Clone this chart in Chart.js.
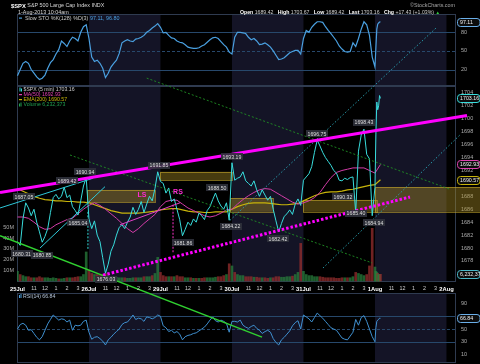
<!DOCTYPE html>
<html>
<head>
<meta charset="utf-8">
<title>$SPX 5 min</title>
<script src="https://cdn.jsdelivr.net/npm/chart.js@4.4.1/dist/chart.umd.min.js"></script>
<style>
  html, body { margin: 0; padding: 0; background: #000; overflow: hidden; }
  canvas { display: block; }
</style>
</head>
<body>
<canvas id="spxChart" width="480" height="364"></canvas>
<script>
// 5-minute bars, 78 per session. Values are sampled every 15 minutes (3 bars),
// the last session (1 Aug, up to 10:04am) bar by bar.
const BARS_PER_DAY = 78;
const dayLabels = ['25Jul', '26Jul', '29Jul', '30Jul', '31Jul', '1Aug', '2Aug'];
const hourLabels = ['11', '12', '1', '2', '3'];
const hourBars = [18, 30, 42, 54, 66];

// $SPX price
const close25Jul = [1681.0, 1680.4, 1684.5, 1687.0, 1686.2, 1685.0, 1686.0, 1684.0, 1682.5, 1680.9, 1681.8, 1683.0, 1685.5, 1687.8, 1688.3, 1687.6, 1688.0, 1689.4, 1687.8, 1688.2, 1686.4, 1685.8, 1685.1, 1687.3, 1689.6, 1690.9];
const close26Jul = [1684.5, 1683.0, 1684.2, 1682.0, 1681.0, 1678.5, 1676.1, 1677.5, 1679.5, 1680.5, 1682.0, 1683.2, 1683.6, 1683.0, 1684.0, 1684.8, 1686.3, 1685.2, 1686.0, 1687.2, 1685.5, 1686.8, 1688.0, 1687.3, 1689.2, 1691.8];
const close29Jul = [1690.3, 1690.0, 1688.5, 1689.3, 1687.2, 1687.6, 1686.0, 1684.4, 1681.9, 1682.9, 1684.0, 1683.5, 1684.5, 1684.0, 1685.4, 1685.0, 1684.4, 1685.8, 1686.4, 1687.5, 1688.5, 1687.3, 1686.5, 1686.0, 1687.0, 1684.3];
const close30Jul = [1693.2, 1690.5, 1690.8, 1691.0, 1691.8, 1690.4, 1690.0, 1689.6, 1690.4, 1689.0, 1688.0, 1689.0, 1688.2, 1687.4, 1688.0, 1686.0, 1684.2, 1682.5, 1683.8, 1684.9, 1685.3, 1685.9, 1685.2, 1686.8, 1687.6, 1686.6];
const close31Jul = [1690.5, 1691.0, 1691.5, 1692.6, 1694.8, 1696.7, 1695.8, 1694.8, 1694.0, 1693.4, 1692.8, 1692.0, 1691.6, 1690.5, 1690.4, 1690.8, 1690.6, 1690.9, 1691.0, 1685.5, 1695.0, 1697.5, 1698.4, 1694.5, 1693.8, 1685.0];
const close1Aug = [1689.4, 1697.5, 1702.6, 1701.4, 1702.0, 1703.6, 1703.16];

// MA(50) and EMA(200), every 30 minutes
const ma25Jul = [1684.8, 1684.8, 1684.6, 1684.0, 1683.3, 1682.9, 1683.0, 1683.6, 1684.0, 1684.4, 1684.6, 1685.3, 1686.0];
const ma26Jul = [1686.6, 1687.0, 1686.6, 1686.0, 1685.3, 1684.6, 1683.8, 1683.0, 1682.4, 1683.0, 1683.8, 1684.5, 1685.2];
const ma29Jul = [1686.4, 1687.2, 1687.4, 1687.4, 1686.8, 1686.2, 1685.8, 1685.4, 1685.0, 1684.8, 1685.0, 1685.4, 1685.9];
const ma30Jul = [1686.0, 1686.8, 1687.5, 1688.1, 1688.6, 1689.0, 1689.2, 1689.1, 1688.6, 1688.1, 1687.6, 1687.1, 1686.8];
const ma31Jul = [1687.0, 1687.3, 1687.8, 1688.6, 1689.8, 1690.9, 1691.7, 1692.0, 1692.2, 1692.4, 1692.4, 1692.4, 1692.0];
const ma1Aug = [1691.6, 1692.93];

const ema25Jul = [1689.2, 1688.8, 1688.4, 1688.0, 1687.7, 1687.5, 1687.4, 1687.3, 1687.3, 1687.2, 1687.2, 1687.1, 1687.1];
const ema26Jul = [1687.0, 1686.7, 1686.4, 1686.1, 1685.8, 1685.6, 1685.4, 1685.4, 1685.4, 1685.4, 1685.5, 1685.6, 1685.7];
const ema29Jul = [1685.9, 1686.0, 1686.1, 1686.1, 1685.9, 1685.7, 1685.6, 1685.6, 1685.5, 1685.5, 1685.6, 1685.6, 1685.6];
const ema30Jul = [1686.0, 1686.4, 1686.7, 1686.9, 1687.0, 1687.0, 1687.0, 1686.9, 1686.8, 1686.7, 1686.7, 1686.8, 1686.9];
const ema31Jul = [1687.3, 1687.7, 1688.1, 1688.4, 1688.6, 1688.7, 1688.7, 1688.8, 1689.0, 1689.1, 1689.3, 1689.5, 1689.7];
const ema1Aug = [1689.8, 1690.57];

// Volume, millions per 5-minute bar
const vol25Jul = [9, 6, 5, 4, 4, 3, 3, 3, 4, 3, 3, 3, 2.5, 3, 2.5, 2, 2, 2.5, 3, 3, 3, 3.5, 4, 4, 6, 27];
const vol26Jul = [10, 7, 6, 6, 5, 6, 7, 5, 4, 4, 3.5, 3, 3, 3, 2.5, 2.5, 3, 3, 3, 3, 4, 4, 4, 5, 7, 22];
const vol29Jul = [8, 5, 4, 4, 4, 4, 5, 4, 4, 3, 3, 3, 2.5, 2.5, 2.5, 2.5, 3, 3, 3, 3, 3.5, 4, 4, 5, 6, 16];
const vol30Jul = [14, 8, 6, 5, 5, 4, 4, 4, 3.5, 3.5, 3, 3, 3, 2.5, 3, 3, 4, 4, 3.5, 3.5, 4, 4, 4.5, 6, 8, 35];
const vol31Jul = [9, 6, 5, 5, 4, 4, 4, 3.5, 3, 3, 3, 3, 2.5, 2.5, 3, 3, 3, 3, 4, 8, 7, 6, 5, 6, 14, 49];
const vol1Aug = [13, 9, 8, 7, 6, 6, 6.2];

// Slow STO %K(128)
const sto25Jul = [10, 20, 30, 33, 30, 20, 14, 8, 4, 6, 11, 22, 31, 36, 45, 52, 66, 62, 57, 66, 72, 70, 66, 80, 89, 92];
const sto26Jul = [70, 40, 33, 35, 30, 22, 7, 14, 24, 30, 35, 46, 63, 66, 68, 66, 65, 69, 70, 72, 75, 80, 83, 87, 90, 94];
const sto29Jul = [88, 79, 80, 75, 71, 70, 66, 64, 63, 60, 56, 55, 54, 54, 55, 58, 60, 64, 68, 71, 72, 70, 65, 60, 56, 48];
const sto30Jul = [45, 72, 80, 80, 79, 78, 72, 68, 70, 66, 60, 61, 63, 60, 56, 50, 43, 36, 37, 39, 43, 47, 49, 51, 51, 45];
const sto31Jul = [70, 83, 80, 88, 93, 97, 97, 96, 89, 83, 78, 72, 66, 58, 53, 49, 48, 49, 63, 57, 70, 85, 97, 92, 75, 40];
const sto1Aug = [24, 55, 85, 93, 95, 96.5, 97.11];

// RSI(14)
const rsi25Jul = [50, 57, 59, 56, 48, 49, 43, 37, 33, 38, 48, 58, 65, 72, 68, 64, 66, 65, 61, 64, 48, 56, 55, 56, 62, 64];
const rsi26Jul = [45, 34, 37, 38, 35, 31, 25, 33, 37, 42, 46, 50, 57, 60, 61, 66, 72, 65, 67, 66, 62, 69, 68, 66, 68, 72];
const rsi29Jul = [70, 55, 52, 46, 48, 44, 46, 42, 33, 38, 40, 41, 43, 44, 47, 50, 53, 58, 64, 69, 63, 61, 64, 62, 59, 45];
const rsi30Jul = [62, 62, 61, 64, 56, 53, 51, 54, 56, 51, 48, 43, 46, 48, 45, 35, 29, 25, 33, 37, 42, 47, 55, 60, 63, 50];
const rsi31Jul = [72, 69, 66, 61, 68, 75, 71, 67, 62, 57, 52, 50, 48, 42, 36, 34, 33, 39, 45, 65, 56, 68, 71, 62, 50, 38];
const rsi1Aug = [30, 52, 62, 64, 65, 67, 66.84];

// axis ticks
const priceTicks = [1676, 1678, 1680, 1682, 1684, 1686, 1688, 1690, 1692, 1694, 1696, 1698, 1700, 1702, 1704];
const volumeTicks = [10, 20, 30, 40, 50];
const stoTicks = [20, 50, 80];
const rsiTicks = [10, 30, 50, 70, 90];

// hand-drawn annotations, [bar, price]
const upperTrend = [[-19.0, 1688.6], [490.4, 1700.5]];
const lowerTrendDots = [[93.3, 1675.8], [428.2, 1687.9]];
const channelTop25Jul = [[-19.0, 1686.2], [82.4, 1690.8]];
const riseLine25Jul = [[24.6, 1680.0], [95.5, 1689.5]];
const downTrend = [[-19.0, 1681.9], [266.8, 1666.2]];
const fallLineHigh = [[141.0, 1706.3], [471.8, 1689.1]];
const fallLineLow = [[57.3, 1694.4], [386.8, 1677.7]];
const riseDotsA = [[231.9, 1684.3], [457.7, 1714.2]];
const riseDotsB = [[333.3, 1676.9], [482.7, 1697.5]];
const neckline = [[111.9, 1683.6], [177.3, 1687.0]];
const gapMark = [[76.9, 1685.6], [76.9, 1679.7]];
const shoulderMark = [[169.7, 1686.7], [169.7, 1679.2]];
// [fromBar, toBar, top, bottom]
const zones = [
  [75.9, 150.1, 1689.0, 1687.1],
  [155.5, 234.0, 1691.8, 1690.5],
  [231.9, 278.7, 1687.75, 1685.6],
  [311.5, 392.2, 1687.45, 1685.6],
  [390.0, 504.6, 1689.45, 1685.6]
];
// swing labels [bar, price, text]
const swingLabels = [
  [7.1, 1687.9, '1687.05'], [4.5, 1679.1, '1680.31'], [26.8, 1678.9, '1680.85'],
  [54.0, 1690.4, '1689.42'], [73.7, 1691.8, '1690.94'], [66.0, 1683.9, '1685.04'],
  [96.6, 1675.1, '1676.03'], [154.4, 1692.85, '1691.85'], [180.6, 1680.8, '1681.86'],
  [217.7, 1689.3, '1688.50'], [232.9, 1683.3, '1684.22'], [234.0, 1694.1, '1693.19'],
  [284.2, 1681.4, '1682.42'], [326.7, 1697.65, '1696.75'], [355.1, 1687.9, '1690.32'],
  [369.3, 1685.4, '1685.40'], [378.0, 1699.4, '1698.43'], [388.9, 1683.9, '1684.94']
];
const patternLabels = [[135.9, 1688.2, 'LS'], [175.1, 1688.7, 'RS']];

function toPoints(dayArrays, step, lastStep) {
  const pts = [];
  dayArrays.forEach((vals, d) => {
    const s = d === dayArrays.length - 1 ? lastStep : step;
    vals.forEach((v, i) => pts.push({ x: d * BARS_PER_DAY + i * s, y: v }));
  });
  return pts;
}
const xy = pts => pts.map(p => ({ x: p[0], y: p[1] }));

const pricePts = toPoints([close25Jul, close26Jul, close29Jul, close30Jul, close31Jul, close1Aug], 3, 1);
const maPts = toPoints([ma25Jul, ma26Jul, ma29Jul, ma30Jul, ma31Jul, ma1Aug], 6, 6);
const emaPts = toPoints([ema25Jul, ema26Jul, ema29Jul, ema30Jul, ema31Jul, ema1Aug], 6, 6);
const volPts = toPoints([vol25Jul, vol26Jul, vol29Jul, vol30Jul, vol31Jul, vol1Aug], 3, 1);
const stoPts = toPoints([sto25Jul, sto26Jul, sto29Jul, sto30Jul, sto31Jul, sto1Aug], 3, 1);
const rsiPts = toPoints([rsi25Jul, rsi26Jul, rsi29Jul, rsi30Jul, rsi31Jul, rsi1Aug], 3, 1);
const volColors = pricePts.map((p, i) =>
  i > 0 && p.y < pricePts[i - 1].y ? 'rgba(150,45,45,0.75)' : 'rgba(40,125,60,0.75)');

const FONT = '"Liberation Sans", Arial, sans-serif';
const font = (size, bold) => (bold ? 'bold ' : '') + size + 'px ' + FONT;

function annotation(points, color, width, dash, order) {
  return {
    type: 'line', data: xy(points), yAxisID: 'yPrice',
    borderColor: color, borderWidth: width, borderDash: dash || [],
    pointRadius: 0, clip: false, order: order || 1
  };
}

function hline(ctx, area, y) {
  ctx.beginPath();
  ctx.moveTo(area.left, Math.round(y) + 0.5);
  ctx.lineTo(area.right, Math.round(y) + 0.5);
  ctx.stroke();
}

function valueTag(ctx, x, y, text, color) {
  ctx.font = font(5.3);
  ctx.beginPath();
  ctx.roundRect(x, Math.round(y - 4) + 0.5, 22.5, 8, 3);
  ctx.fillStyle = '#0c0c0c';
  ctx.fill();
  ctx.strokeStyle = color;
  ctx.lineWidth = 1;
  ctx.stroke();
  ctx.fillStyle = '#eeeeee';
  ctx.textAlign = 'left';
  ctx.textBaseline = 'middle';
  ctx.fillText(text, x + 2.5, y + 0.5);
}

function runText(ctx, x, y, parts) {
  parts.forEach(([text, color, bold, size]) => {
    ctx.font = font(size || 5.4, bold);
    ctx.fillStyle = color;
    ctx.fillText(text, x, y);
    x += ctx.measureText(text).width;
  });
  return x;
}

const chartDecor = {
  id: 'chartDecor',
  beforeDraw(chart) {
    const { ctx, chartArea: area, scales } = chart;
    const xs = scales.x;
    const panels = [scales.ySto, scales.yPrice, scales.yRsi];
    ctx.save();
    ctx.fillStyle = '#000';
    ctx.fillRect(0, 0, chart.width, chart.height);
    // alternate sessions shaded
    ctx.fillStyle = '#141426';
    [1, 3, 5].forEach(d => {
      const x0 = xs.getPixelForValue(d * BARS_PER_DAY);
      const x1 = Math.min(xs.getPixelForValue((d + 1) * BARS_PER_DAY), area.right);
      panels.forEach(p => ctx.fillRect(x0, p.top, x1 - x0, p.bottom - p.top));
    });
    // indicator guide lines
    ctx.lineWidth = 1;
    ctx.strokeStyle = '#27486b';
    [[scales.ySto, [80, 20], 50], [scales.yRsi, [70, 30], 50]].forEach(([s, solid, mid]) => {
      ctx.setLineDash([]);
      solid.forEach(v => hline(ctx, area, s.getPixelForValue(v)));
      ctx.setLineDash([3, 2]);
      hline(ctx, area, s.getPixelForValue(mid));
    });
    ctx.setLineDash([]);
    ctx.strokeStyle = '#2f3b50';
    panels.forEach(p => ctx.strokeRect(Math.round(area.left) + 0.5, Math.round(p.top) + 0.5,
      Math.round(area.right - area.left) - 1, Math.round(p.bottom - p.top) - 1));
    ctx.restore();
  },
  beforeDatasetsDraw(chart) {
    const { ctx, scales } = chart;
    const xs = scales.x, yp = scales.yPrice;
    ctx.save();
    ctx.fillStyle = 'rgba(170,140,35,0.42)';
    ctx.strokeStyle = 'rgba(205,175,45,0.55)';
    ctx.lineWidth = 1;
    zones.forEach(([b0, b1, top, bottom]) => {
      const x0 = xs.getPixelForValue(b0), x1 = xs.getPixelForValue(b1);
      const y0 = yp.getPixelForValue(top), y1 = yp.getPixelForValue(bottom);
      ctx.fillRect(x0, y0, x1 - x0, y1 - y0);
      ctx.strokeRect(Math.round(x0) + 0.5, Math.round(y0) + 0.5, Math.round(x1 - x0), Math.round(y1 - y0));
    });
    ctx.restore();
  },
  afterDraw(chart) {
    const { ctx, scales, chartArea: area } = chart;
    const xs = scales.x, yp = scales.yPrice;
    ctx.save();
    ctx.textBaseline = 'middle';

    // swing labels
    ctx.textAlign = 'center';
    swingLabels.forEach(([b, p, text]) => {
      const x = xs.getPixelForValue(b), y = yp.getPixelForValue(p);
      ctx.font = font(5.2);
      const w = Math.round(ctx.measureText(text).width + 3);
      ctx.fillStyle = 'rgba(46,48,58,0.92)';
      ctx.fillRect(Math.round(x - w / 2), Math.round(y - 3.5), w, 7);
      ctx.fillStyle = '#dedede';
      ctx.fillText(text, x, y + 0.3);
    });
    ctx.font = font(7, true);
    ctx.fillStyle = '#ff2ad4';
    patternLabels.forEach(([b, p, text]) => ctx.fillText(text, xs.getPixelForValue(b), yp.getPixelForValue(p)));

    // time axis between price and RSI panels
    const ty = yp.bottom + 7;
    dayLabels.forEach((name, d) => {
      ctx.font = font(5.8, true);
      ctx.fillStyle = '#ffffff';
      ctx.fillText(name, xs.getPixelForValue(d * BARS_PER_DAY), ty);
      if (d < dayLabels.length - 1) {
        ctx.font = font(5.4);
        ctx.fillStyle = '#cfcfcf';
        hourBars.forEach((hb, i) => ctx.fillText(hourLabels[i], xs.getPixelForValue(d * BARS_PER_DAY + hb), ty));
      }
    });

    // header
    ctx.textAlign = 'left';
    runText(ctx, 11, 6, [['$SPX', '#ffffff', true, 5.8], [' S&P 500 Large Cap Index ', '#d8d8d8'], ['INDX', '#d8d8d8']]);
    runText(ctx, 18, 13, [['1-Aug-2013 10:04am', '#d8d8d8']]);
    const hx = runText(ctx, 240, 13, [
      ['Open ', '#ffffff', true, 5.2], ['1689.42   ', '#cfcfcf', false, 5.2],
      ['High ', '#ffffff', true, 5.2], ['1703.67   ', '#cfcfcf', false, 5.2],
      ['Low ', '#ffffff', true, 5.2], ['1689.42   ', '#cfcfcf', false, 5.2],
      ['Last ', '#ffffff', true, 5.2], ['1703.16   ', '#cfcfcf', false, 5.2],
      ['Chg ', '#ffffff', true, 5.2], ['+17.43 (+1.03%) ', '#cfcfcf', false, 5.2]]);
    runText(ctx, hx, 13, [['\u25B2', '#30d040', false, 4.5]]);
    runText(ctx, 410, 6, [['\u00A9StockCharts.com', '#a8a8a8', false, 5.4]]);

    // panel legends
    ctx.fillStyle = '#4aa0e0';
    ctx.fillRect(19, 17.5, 3, 1.2);
    runText(ctx, 25, 18.3, [['Slow STO %K(128) %D(3) ', '#cccccc'], ['97.11, 96.80', '#4aa0e0']]);

    ctx.fillStyle = '#38dcdc';
    ctx.fillRect(19.5, 87.5, 1, 4);
    ctx.fillRect(21, 88.5, 1, 3);
    runText(ctx, 23.5, 89.6, [['$SPX (5 min) 1703.16', '#cccccc', false, 5.2]]);
    ctx.fillStyle = '#e040b0';
    ctx.fillRect(19, 94, 3, 1.2);
    runText(ctx, 23.5, 94.6, [['MA(50) 1692.93', '#e040b0', false, 5.2]]);
    ctx.fillStyle = '#c8b40a';
    ctx.fillRect(19, 99, 3, 1.2);
    runText(ctx, 23.5, 99.6, [['EMA(200) 1690.57', '#c8b40a', false, 5.2]]);
    ctx.fillStyle = '#20a050';
    ctx.fillRect(19, 103.5, 1, 3);
    ctx.fillRect(20.5, 102.5, 1, 4);
    runText(ctx, 23.5, 104.8, [['Volume 6,232,373', '#20a050', false, 5.2]]);

    ctx.fillStyle = '#4aa0e0';
    ctx.fillRect(19, 295, 1, 3);
    ctx.fillRect(20.5, 294, 1, 4);
    runText(ctx, 23, 296.5, [['RSI(14) 66.84', '#b8c8dc', false, 5.2]]);

    // last-value tags on the right axis
    const tx = area.right + 1.5;
    valueTag(ctx, tx, scales.ySto.getPixelForValue(97.11), '97.11', '#6aaee8');
    valueTag(ctx, tx, yp.getPixelForValue(1703.16), '1703.16', '#38dcdc');
    valueTag(ctx, tx, yp.getPixelForValue(1692.93), '1692.93', '#e040b0');
    valueTag(ctx, tx, yp.getPixelForValue(1690.57), '1690.57', '#c8b40a');
    valueTag(ctx, tx, Math.min(scales.yVol.getPixelForValue(6.232373), yp.bottom - 4), '6,232,373', '#4ab8c8');
    valueTag(ctx, tx, scales.yRsi.getPixelForValue(66.84), '66.84', '#6aaee8');
    ctx.restore();
  }
};

function rightPanel(weight, ticks) {
  return {
    type: 'linear', position: 'right', stack: 'panels', stackWeight: weight,
    grid: { display: false, drawTicks: false }, border: { display: false },
    ticks: { padding: 5, color: '#ababab', font: { size: 5.5 }, autoSkip: false, callback: v => String(v) },
    afterBuildTicks: s => { if (ticks) s.ticks = ticks.map(v => ({ value: v })); },
    afterFit: s => { s.width = 24; s.paddingTop = 0; s.paddingBottom = 0; }
  };
}

Chart.defaults.font.family = FONT;

new Chart(document.getElementById('spxChart'), {
  type: 'line',
  data: {
    datasets: [
      annotation(upperTrend, '#ff00ff', 3, [], 0),
      annotation(lowerTrendDots, '#ff00ff', 3, [2.5, 2], 0),
      annotation(channelTop25Jul, '#2ec8d8', 1),
      annotation(riseLine25Jul, '#2ec8d8', 1),
      annotation(downTrend, '#30d030', 1.5),
      annotation(fallLineHigh, '#1f8f24', 0.9, [2, 2]),
      annotation(fallLineLow, '#1f8f24', 0.9, [2, 2]),
      annotation(riseDotsA, '#2aa7b8', 0.9, [1.5, 2]),
      annotation(riseDotsB, '#2aa7b8', 0.9, [1.5, 2]),
      annotation(neckline, '#e040c8', 1),
      annotation(gapMark, '#38e0e0', 1, [2, 1.5]),
      annotation(shoulderMark, '#ff33cc', 1, [2, 1.5]),
      { type: 'line', label: '$SPX', data: pricePts, yAxisID: 'yPrice', borderColor: '#38dcdc', borderWidth: 1, pointRadius: 0, order: 3 },
      { type: 'line', label: 'MA(50)', data: maPts, yAxisID: 'yPrice', borderColor: '#d43ca8', borderWidth: 1, pointRadius: 0, order: 4 },
      { type: 'line', label: 'EMA(200)', data: emaPts, yAxisID: 'yPrice', borderColor: '#c8b40a', borderWidth: 1.2, pointRadius: 0, order: 4 },
      { type: 'bar', label: 'Volume', data: volPts, yAxisID: 'yVol', backgroundColor: volColors, barThickness: 2, order: 9 },
      { type: 'line', label: 'Slow STO', data: stoPts, yAxisID: 'ySto', borderColor: '#4aa0e0', borderWidth: 1.2, pointRadius: 0, order: 3 },
      { type: 'line', label: 'RSI(14)', data: rsiPts, yAxisID: 'yRsi', borderColor: '#3f90d0', borderWidth: 1, pointRadius: 0, order: 3 }
    ]
  },
  options: {
    responsive: false,
    animation: false,
    devicePixelRatio: 1,
    layout: { padding: { top: 14, bottom: 1, left: 0, right: 0 } },
    plugins: { legend: { display: false }, tooltip: { enabled: false } },
    elements: { line: { tension: 0 } },
    scales: {
      x: { type: 'linear', display: false, min: -0.5, max: 478.4, offset: false },
      ySto: { ...rightPanel(72, stoTicks), min: -6.6, max: 109.5 },
      yPrice: { ...rightPanel(196, priceTicks), min: 1674.74, max: 1705.08 },
      yGap: { ...rightPanel(11, null), ticks: { display: false } },
      yRsi: { ...rightPanel(70, rsiTicks), min: -3.3, max: 106.5 },
      yVol: {
        type: 'linear', position: 'left', min: -76.3, max: 248.4,
        grid: { display: false, drawTicks: false }, border: { display: false },
        ticks: { padding: 3, color: '#ababab', font: { size: 5.5 }, autoSkip: false, callback: v => v + 'M' },
        afterBuildTicks: s => { s.ticks = volumeTicks.map(v => ({ value: v })); },
        afterFit: s => { s.width = 17; s.paddingTop = 0; s.paddingBottom = 0; }
      }
    }
  },
  plugins: [chartDecor]
});
</script>
</body>
</html>
